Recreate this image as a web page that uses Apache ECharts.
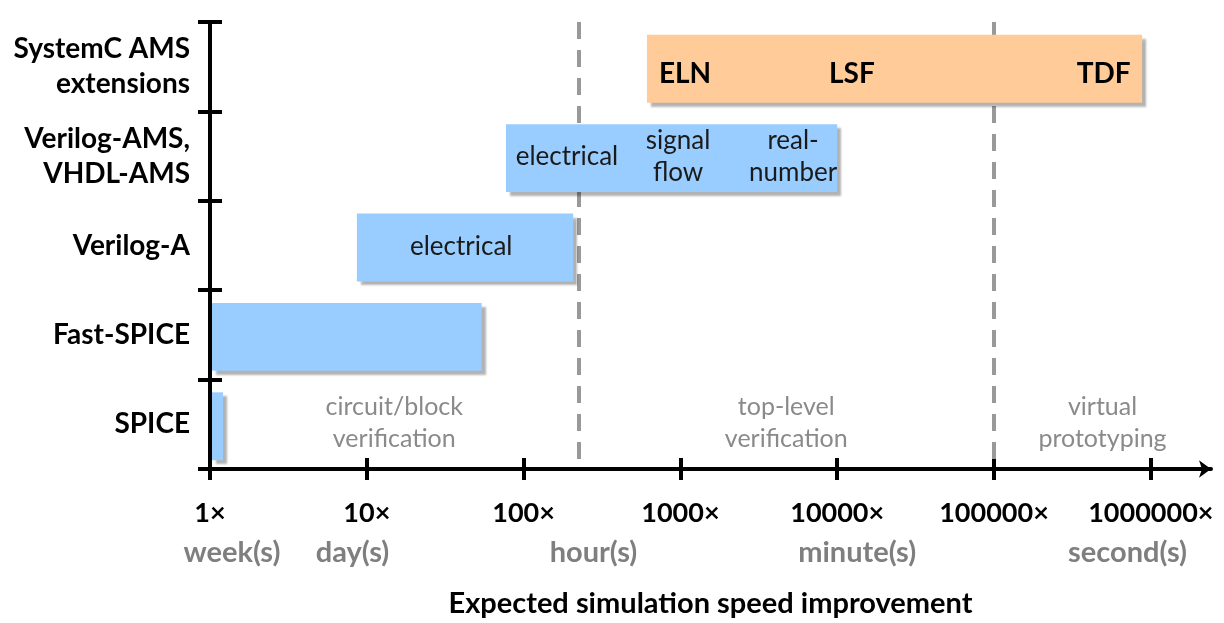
<!DOCTYPE html>
<html lang="en">
<head>
<meta charset="UTF-8">
<title>Expected simulation speed improvement</title>
<script src="https://cdn.jsdelivr.net/npm/echarts@6/dist/echarts.min.js"></script>
<style>html,body{margin:0;padding:0;background:#fff;}</style>
</head>
<body>
<div id="main" style="width:1224px;height:623px;"></div>

<script type="text/javascript">
// languages (top to bottom) and the speed range each one covers
var categories = ['SystemC AMS\nextensions', 'Verilog-AMS,\nVHDL-AMS', 'Verilog-A', 'Fast-SPICE', 'SPICE'];
var barStart = [594, 75, 8.4, 1, 1];
var barEnd = [880000, 10000, 207, 54, 1.21];

// words written inside the bars, and where on the speed axis they sit
var barLabels = [['ELN', 'LSF', 'TDF'], ['electrical', 'signal\nflow', 'real-\nnumber'], ['electrical'], [], []];
var barLabelAt = [[1070, 12400, 500000], [189, 966, 5230], [40], [], []];

// x axis
var speedTicks = [1, 10, 100, 1000, 10000, 100000, 1000000];
var speedTickLabels = ['1×', '10×', '100×', '1000×', '10000×', '100000×', '1000000×'];
var speedMax = 2420000;
var timeAt = [1.38, 8.1, 279, 13400, 710000];
var timeLabels = ['week(s)', 'day(s)', 'hour(s)', 'minute(s)', 'second(s)'];

// verification zones, split by dashed lines
var zoneEdges = [1, 224, 100000, speedMax];
var zoneLabels = ['circuit/block\nverification', 'top-level\nverification', 'virtual\nprototyping'];

var FONT = 'Lato, "Open Sans", sans-serif';
var BLUE = '#99CCFF';
var PEACH = '#FFCB99';

var myChart = echarts.init(document.getElementById('main'));

function pick(list, labels, value) {
    for (var i = 0; i < list.length; i++) {
        if (Math.abs(Math.log10(value) - Math.log10(list[i])) < 0.01) return labels[i];
    }
    return '';
}

var barData = categories.map(function (c, i) {
    return [i, barStart[i], barEnd[i]];
});

function renderRow(params, api) {
    var row = api.value(0);
    var p0 = api.coord([api.value(1), row]);
    var p1 = api.coord([api.value(2), row]);
    var h = api.size([1, 1])[1] * 0.76;
    var y = p0[1] - h / 2 + 2;
    var children = [{
        type: 'rect',
        shape: {x: p0[0] + 2, y: y, width: p1[0] - p0[0] - 2, height: h},
        style: {
            fill: row === 0 ? PEACH : BLUE,
            shadowBlur: 2,
            shadowOffsetX: 4,
            shadowOffsetY: 4,
            shadowColor: 'rgba(0,0,0,0.3)'
        }
    }];
    barLabels[row].forEach(function (t, k) {
        var pt = api.coord([barLabelAt[row][k], row]);
        children.push({
            type: 'text',
            x: pt[0],
            y: pt[1] + (row === 0 ? 7 : 1),
            style: {
                text: t,
                align: 'center',
                verticalAlign: 'middle',
                fill: row === 0 ? '#000' : '#1a1a1a',
                fontSize: row === 0 ? 28 : 26,
                fontWeight: row === 0 ? 'bold' : 'normal',
                fontFamily: FONT,
                lineHeight: 32
            }
        });
    });
    return {type: 'group', children: children};
}

var option = {
    animation: false,
    backgroundColor: '#fff',
    grid: {left: 210, right: 13, top: 22, bottom: 154},
    xAxis: [{
        type: 'log',
        logBase: 10,
        position: 'bottom',
        min: 1,
        max: speedMax,
        name: 'Expected simulation speed improvement',
        nameLocation: 'middle',
        nameGap: 120,
        nameTextStyle: {color: '#000', fontSize: 29, fontWeight: 'bold', fontFamily: FONT},
        axisLine: {
            show: true,
            symbol: ['none', 'arrow'],
            symbolSize: [13, 12],
            lineStyle: {color: '#000', width: 4}
        },
        axisTick: {show: true, customValues: speedTicks, length: 11, lineStyle: {color: '#000', width: 4}},
        axisLabel: {
            customValues: speedTicks,
            margin: 31,
            color: '#000',
            fontSize: 27,
            fontWeight: 'bold',
            fontFamily: FONT,
            formatter: function (v) { return pick(speedTicks, speedTickLabels, v); }
        },
        splitLine: {show: false}
    }, {
        type: 'log',
        logBase: 10,
        position: 'bottom',
        min: 1,
        max: speedMax,
        axisLine: {show: false},
        axisTick: {show: true, inside: true, customValues: speedTicks, length: 11, lineStyle: {color: '#000', width: 4}},
        axisLabel: {
            customValues: timeAt,
            margin: 69,
            color: '#7f7f7f',
            fontSize: 29,
            fontWeight: 'bold',
            fontFamily: FONT,
            formatter: function (v) { return pick(timeAt, timeLabels, v); }
        },
        splitLine: {show: false}
    }],
    yAxis: [{
        type: 'category',
        position: 'left',
        inverse: true,
        data: categories,
        axisLine: {show: true, lineStyle: {color: '#000', width: 4}},
        axisTick: {show: true, length: 12, lineStyle: {color: '#000', width: 4}},
        axisLabel: {
            margin: 20,
            color: '#000',
            fontSize: 28,
            fontWeight: 'bold',
            fontFamily: FONT,
            lineHeight: 35,
            align: 'right'
        },
        splitLine: {show: false}
    }, {
        type: 'category',
        position: 'left',
        inverse: true,
        data: categories,
        axisLine: {show: false},
        axisTick: {show: true, inside: true, length: 12, lineStyle: {color: '#000', width: 4}},
        axisLabel: {show: false},
        splitLine: {show: false}
    }],
    series: [{
        type: 'line',
        xAxisIndex: 0,
        yAxisIndex: 0,
        data: [],
        z: 1,
        markLine: {
            z: 1,
            silent: true,
            symbol: 'none',
            label: {show: false},
            lineStyle: {color: '#999', width: 4, type: [17, 11]},
            data: [{xAxis: zoneEdges[1]}, {xAxis: zoneEdges[2]}]
        },
        markArea: {
            z: 1,
            silent: true,
            itemStyle: {color: 'rgba(0,0,0,0)'},
            label: {
                show: true,
                position: 'insideBottom',
                distance: 14,
                color: '#8a8a8a',
                fontSize: 25,
                lineHeight: 32,
                fontFamily: FONT
            },
            data: zoneLabels.map(function (t, i) {
                return [{xAxis: zoneEdges[i], name: t}, {xAxis: zoneEdges[i + 1]}];
            })
        }
    }, {
        type: 'custom',
        xAxisIndex: 0,
        yAxisIndex: 0,
        z: 10,
        renderItem: renderRow,
        encode: {x: [1, 2], y: 0},
        data: barData
    }]
};

myChart.setOption(option);
</script>
</body>
</html>
